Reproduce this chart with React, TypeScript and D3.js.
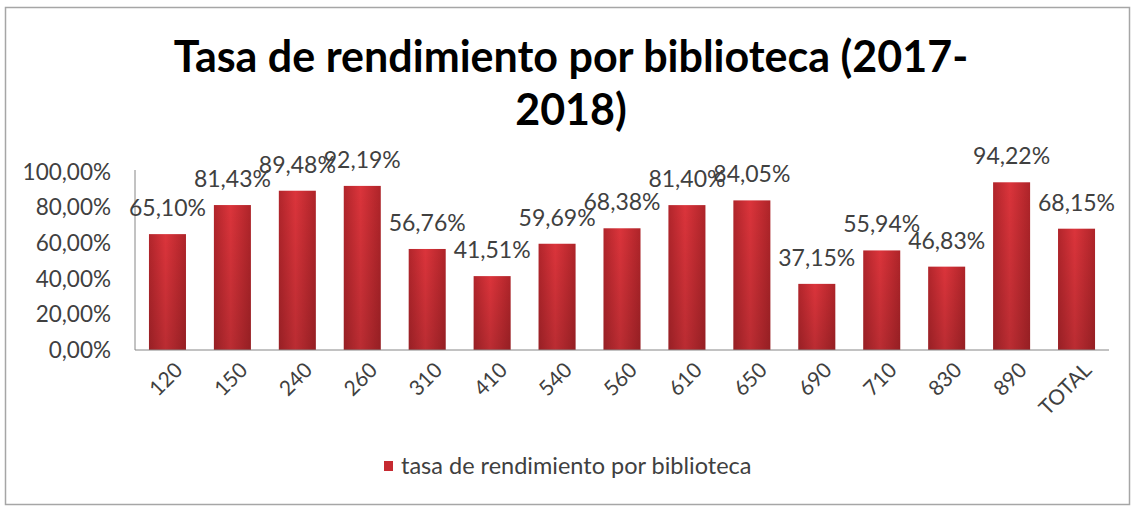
import React, { useEffect, useRef } from 'react';
import * as d3 from 'd3';

const categories = ['120', '150', '240', '260', '310', '410', '540', '560', '610', '650', '690', '710', '830', '890', 'TOTAL'];
const values = [65.10, 81.43, 89.48, 92.19, 56.76, 41.51, 59.69, 68.38, 81.40, 84.05, 37.15, 55.94, 46.83, 94.22, 68.15];
const yTicks = [0, 20, 40, 60, 80, 100];
const titleLines = ['Tasa de rendimiento por biblioteca (2017-', '2018)'];
const legendLabel = 'tasa de rendimiento por biblioteca';

const fmt = (v: number) => v.toFixed(2).replace('.', ',') + '%';

const App: React.FC = () => {
    const svgRef = useRef<SVGSVGElement | null>(null);

    useEffect(() => {
        if (!svgRef.current) return;
        document.body.style.margin = '0';

        const width = 1132;
        const height = 511;
        const font = 'Lato, "Open Sans", sans-serif';
        const textColor = '#404040';

        const svg = d3.select(svgRef.current)
            .attr('width', width)
            .attr('height', height);
        svg.selectAll('*').remove();

        // gradient for the bars
        const defs = svg.append('defs');
        const grad = defs.append('linearGradient')
            .attr('id', 'barGrad')
            .attr('x1', '0%').attr('x2', '100%')
            .attr('y1', '0%').attr('y2', '0%');
        grad.append('stop').attr('offset', '0%').attr('stop-color', '#b1252b');
        grad.append('stop').attr('offset', '45%').attr('stop-color', '#db343b');
        grad.append('stop').attr('offset', '100%').attr('stop-color', '#ae2429');

        const shade = defs.append('linearGradient')
            .attr('id', 'barShade')
            .attr('x1', '0%').attr('x2', '0%')
            .attr('y1', '0%').attr('y2', '100%');
        shade.append('stop').attr('offset', '0%').attr('stop-color', '#000').attr('stop-opacity', 0);
        shade.append('stop').attr('offset', '100%').attr('stop-color', '#000').attr('stop-opacity', 0.15);

        // chart border
        svg.append('rect')
            .attr('x', 5.5).attr('y', 7.5)
            .attr('width', 1124).attr('height', 497)
            .attr('fill', '#fff')
            .attr('stroke', '#a6a6a6')
            .attr('stroke-width', 1.5);

        // title
        const title = svg.append('text')
            .attr('text-anchor', 'middle')
            .attr('font-family', font)
            .attr('font-weight', 'bold')
            .attr('font-size', 43)
            .attr('fill', '#000');
        title.selectAll('tspan')
            .data(titleLines)
            .enter().append('tspan')
            .attr('x', 571)
            .attr('y', (d, i) => 72 + i * 53)
            .text(d => d);

        const margin = { left: 135, right: 23, top: 172, bottom: 161 };
        const x = d3.scaleBand()
            .domain(categories)
            .range([margin.left, width - margin.right])
            .paddingInner(0.43)
            .paddingOuter(0.215);
        const y = d3.scaleLinear()
            .domain([0, 100])
            .range([height - margin.bottom, margin.top]);

        // y labels
        svg.append('g')
            .selectAll('text')
            .data(yTicks)
            .enter().append('text')
            .attr('x', 111)
            .attr('y', d => y(d))
            .attr('dy', '0.35em')
            .attr('text-anchor', 'end')
            .attr('font-family', font)
            .attr('font-size', 22.5)
            .attr('fill', textColor)
            .text(d => fmt(d));

        // bars
        const bars = svg.append('g');
        bars.selectAll('.bar')
            .data(values)
            .enter().append('rect')
            .attr('class', 'bar')
            .attr('x', (d, i) => x(categories[i]) || 0)
            .attr('y', d => y(d))
            .attr('width', x.bandwidth())
            .attr('height', d => y(0) - y(d))
            .attr('fill', 'url(#barGrad)');
        bars.selectAll('.shade')
            .data(values)
            .enter().append('rect')
            .attr('class', 'shade')
            .attr('x', (d, i) => x(categories[i]) || 0)
            .attr('y', d => y(d))
            .attr('width', x.bandwidth())
            .attr('height', d => y(0) - y(d))
            .attr('fill', 'url(#barShade)');

        // axes lines
        svg.append('line')
            .attr('x1', margin.left).attr('x2', margin.left)
            .attr('y1', y(100) - 2).attr('y2', y(0))
            .attr('stroke', '#868686');
        svg.append('line')
            .attr('x1', margin.left).attr('x2', width - margin.right)
            .attr('y1', y(0)).attr('y2', y(0))
            .attr('stroke', '#868686');

        // data labels
        svg.append('g')
            .selectAll('text')
            .data(values)
            .enter().append('text')
            .attr('x', (d, i) => (x(categories[i]) || 0) + x.bandwidth() / 2)
            .attr('y', d => y(d) - 18)
            .attr('text-anchor', 'middle')
            .attr('font-family', font)
            .attr('font-size', 23)
            .attr('fill', textColor)
            .text(d => fmt(d));

        // x labels rotated
        svg.append('g')
            .selectAll('text')
            .data(categories)
            .enter().append('text')
            .attr('transform', d => `translate(${(x(d) || 0) + x.bandwidth() / 2 + 6},${y(0) + 11}) rotate(-45)`)
            .attr('text-anchor', 'end')
            .attr('dy', '0.7em')
            .attr('font-family', font)
            .attr('font-size', 21)
            .attr('fill', textColor)
            .text(d => d);

        // legend
        const legend = svg.append('g').attr('transform', 'translate(384,466)');
        legend.append('rect')
            .attr('x', 0).attr('y', -5)
            .attr('width', 9).attr('height', 10)
            .attr('fill', '#c62a31');
        legend.append('text')
            .attr('x', 17)
            .attr('y', 0)
            .attr('dy', '0.35em')
            .attr('font-family', font)
            .attr('font-size', 23.5)
            .attr('fill', textColor)
            .text(legendLabel);
    }, []);

    return <svg ref={svgRef} style={{ display: 'block' }}></svg>;
};

export default App;
